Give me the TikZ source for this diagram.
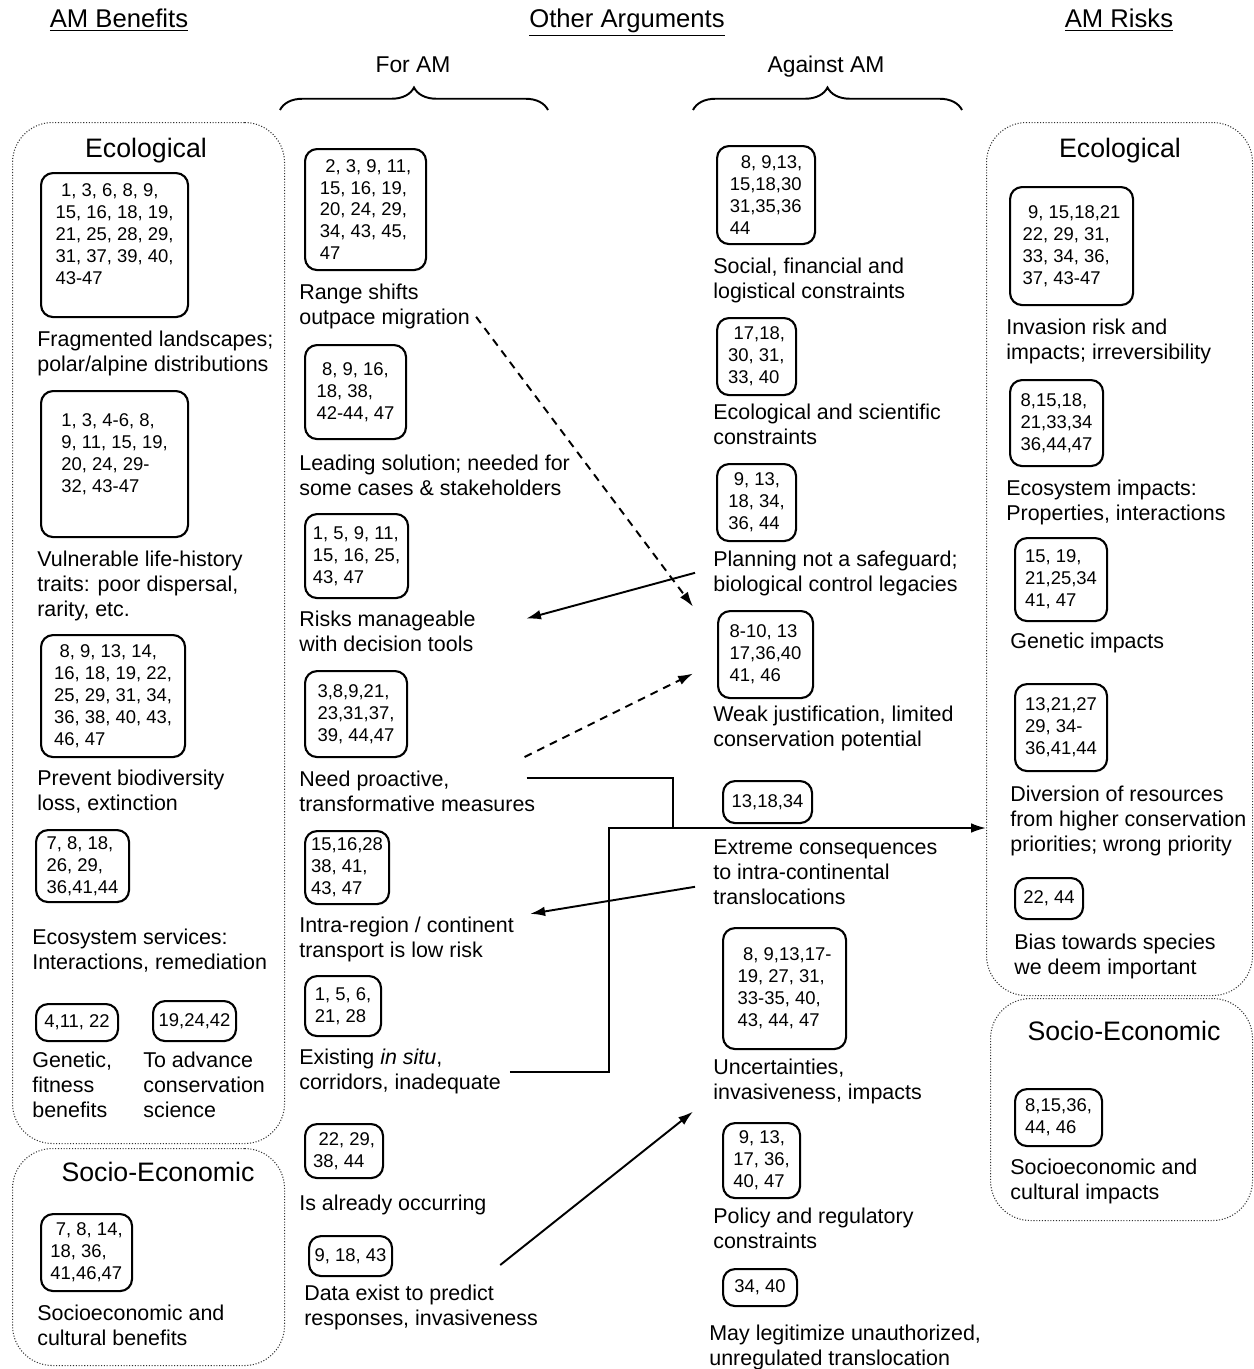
\documentclass[tikz,border=0pt]{standalone}
\usepackage{fontspec}
\setmainfont{Liberation Sans}
\usetikzlibrary{arrows.meta,decorations.pathreplacing}

\newcommand\lblfont{\fontsize{12.2}{14.2}\selectfont}
\newcommand\refsfont{\fontsize{10.5}{12.5}\selectfont}
\newcommand\ind{\hspace{0.3em}}

\begin{document}
\begin{tikzpicture}[
        x=0.02cm, y=-0.02cm,
        >={Latex[length=8.5pt,width=5.5pt]},
        wh/.style 2 args={minimum width=#1*0.02cm, minimum height=#2*0.02cm},
        group/.style={draw=black!80, line width=0.6pt, densely dotted, rounded corners=0.8cm, anchor=north west, inner sep=0pt},
        grouptitle/.style={font=\fontsize{15.2}{18}\selectfont, anchor=base},
        heading/.style={font=\fontsize{14.6}{17}\selectfont, anchor=base},
        side/.style={font=\fontsize{13}{15}\selectfont, anchor=base},
        refs/.style={draw, line width=1.2pt, rounded corners=0.24cm, align=left, font=\refsfont, inner sep=2pt, anchor=north west},
        lbl/.style={align=left, font=\lblfont, inner sep=0pt, anchor=north west},
        link/.style={line width=1.1pt, ->},
        dlink/.style={link, dash pattern=on 4.5pt off 3.5pt},
        brace/.style={decorate, decoration={brace, amplitude=0.45cm}, line width=1.1pt},
    ]
    \useasboundingbox (0,0) rectangle (1254,1369);

    % headings
    \node[heading] (hBen) at (119,28) {\underline{AM Benefits}};
    \node[heading] (hOther) at (627,28) {\underline{Other Arguments}};
    \node[heading] (hRisk) at (1119,28) {\underline{AM Risks}};
    \node[side] (hFor) at (413,72) {For AM};
    \node[side] (hAgainst) at (826,72) {Against AM};
    \draw[brace] (280,110) -- (548,110);
    \draw[brace] (693,110) -- (962,110);

    % groups
    \node[group, wh={272}{1021}] (benEco) at (12,122) {};
    \node[group, wh={272}{217}] (benSoc) at (12,1148) {};
    \node[group, wh={266}{873}] (riskEco) at (986,122) {};
    \node[group, wh={262}{222}] (riskSoc) at (990,998) {};
    \node[grouptitle] (tBenEco) at (146,157) {Ecological};
    \node[grouptitle] (tBenSoc) at (158,1181) {Socio-Economic};
    \node[grouptitle] (tRiskEco) at (1120,157) {Ecological};
    \node[grouptitle] (tRiskSoc) at (1124,1040) {Socio-Economic};

    % AM benefits
    \node[refs, wh={147}{144}] (bFrag) at (40,172) {\ind 1, 3, 6, 8, 9,\\15, 16, 18, 19,\\21, 25, 28, 29,\\31, 37, 39, 40,\\43-47\\ };
    \node[lbl] (lFrag) at (37,331) {Fragmented landscapes;\\polar/alpine distributions};
    \node[refs, wh={147}{146}] (bVuln) at (40,390) {1, 3, 4-6, 8,\\9, 11, 15, 19,\\20, 24, 29-\\32, 43-47\\ };
    \node[lbl] (lVuln) at (37,551) {Vulnerable life-history\\traits: poor dispersal,\\rarity, etc.};
    \node[refs, wh={144}{122}] (bPrev) at (40,634) {\ind 8, 9, 13, 14,\\16, 18, 19, 22,\\25, 29, 31, 34,\\36, 38, 40, 43,\\46, 47};
    \node[lbl] (lPrev) at (37,770) {Prevent biodiversity\\loss, extinction};
    \node[refs, wh={93}{72}] (bEcoSer) at (35,829) {7, 8, 18,\\26, 29,\\36,41,44};
    \node[lbl] (lEcoSer) at (32,929) {Ecosystem services:\\Interactions, remediation};
    \node[refs, wh={82}{37}] (bGenFit) at (35,1003) {4,11, 22};
    \node[refs, wh={83}{40}] (bAdvSci) at (152,1000) {19,24,42};
    \node[lbl] (lGenFit) at (32,1052) {Genetic,\\fitness\\benefits};
    \node[lbl] (lAdvSci) at (143,1052) {To advance\\conservation\\science};
    \node[refs, wh={91}{77}] (bSocBen) at (40,1213) {\ind 7, 8, 14,\\18, 36,\\41,46,47};
    \node[lbl] (lSocBen) at (37,1305) {Socioeconomic and\\cultural benefits};

    % for AM
    \node[refs, wh={121}{121}] (bRange) at (304,148) {\ind 2, 3, 9, 11,\\15, 16, 19,\\20, 24, 29,\\34, 43, 45,\\47};
    \node[lbl] (lRange) at (299,284) {Range shifts\\outpace migration};
    \node[refs, wh={101}{94}] (bLead) at (304,344) {\ind 8, 9, 16,\\18, 38,\\42-44, 47};
    \node[lbl] (lLead) at (299,455) {Leading solution; needed for\\some cases \& stakeholders};
    \node[refs, wh={103}{84}] (bRisk) at (304,513) {1, 5, 9, 11,\\15, 16, 25,\\43, 47};
    \node[lbl] (lRisk) at (299,611) {Risks manageable\\with decision tools};
    \node[refs, wh={102}{86}] (bProact) at (304,670) {3,8,9,21,\\23,31,37,\\39, 44,47};
    \node[lbl] (lProact) at (299,771) {Need proactive,\\transformative measures};
    \node[refs, wh={84}{73}] (bIntra) at (304,830) {15,16,28\\38, 41,\\43, 47};
    \node[lbl] (lIntra) at (299,917) {Intra-region / continent\\transport is low risk};
    \node[refs, wh={76}{60}] (bExist) at (304,975) {1, 5, 6,\\21, 28};
    \node[lbl] (lExist) at (299,1049) {Existing \textit{in situ},\\corridors, inadequate};
    \node[refs, wh={78}{54}] (bAlready) at (304,1123) {\ind 22, 29,\\38, 44};
    \node[lbl] (lAlready) at (299,1195) {Is already occurring};
    \node[refs, wh={83}{40}] (bData) at (308,1235) {9, 18, 43};
    \node[lbl] (lData) at (304,1285) {Data exist to predict\\responses, invasiveness};

    % against AM
    \node[refs, wh={98}{98}] (bSocial) at (716,145) {\ind\ind 8, 9,13,\\15,18,30\\31,35,36\\44};
    \node[lbl] (lSocial) at (713,258) {Social, financial and\\logistical constraints};
    \node[refs, wh={79}{77}] (bEcoSci) at (716,317) {\ind 17,18,\\30, 31,\\33, 40};
    \node[lbl] (lEcoSci) at (713,404) {Ecological and scientific\\constraints};
    \node[refs, wh={79}{77}] (bPlan) at (716,463) {\ind 9, 13,\\18, 34,\\36, 44};
    \node[lbl] (lPlan) at (713,551) {Planning not a safeguard;\\biological control legacies};
    \node[refs, wh={95}{87}] (bWeak) at (717,610) {8-10, 13\\17,36,40\\41, 46};
    \node[lbl] (lWeak) at (713,706) {Weak justification, limited\\conservation potential};
    \node[refs, wh={89}{42}] (bExtreme) at (722,780) {13,18,34};
    \node[lbl] (lExtreme) at (713,839) {Extreme consequences\\to intra-continental\\translocations};
    \node[refs, wh={123}{121}] (bUncert) at (722,927) {\ind 8, 9,13,17-\\19, 27, 31,\\33-35, 40,\\43, 44, 47};
    \node[lbl] (lUncert) at (713,1059) {Uncertainties,\\invasiveness, impacts};
    \node[refs, wh={77}{75}] (bPolicy) at (722,1122) {\ind 9, 13,\\17, 36,\\40, 47};
    \node[lbl] (lPolicy) at (713,1208) {Policy and regulatory\\constraints};
    \node[refs, wh={74}{37}] (bLegit) at (722,1268) {34, 40};
    \node[lbl] (lLegit) at (709,1325) {May legitimize unauthorized,\\unregulated translocation};

    % AM risks
    \node[refs, wh={123}{118}] (bInvasion) at (1009,186) {\ind 9, 15,18,21\\22, 29, 31,\\33, 34, 36,\\37, 43-47};
    \node[lbl] (lInvasion) at (1006,319) {Invasion risk and\\impacts; irreversibility};
    \node[refs, wh={93}{86}] (bEcoImp) at (1009,379) {8,15,18,\\21,33,34\\36,44,47};
    \node[lbl] (lEcoImp) at (1006,480) {Ecosystem impacts:\\Properties, interactions};
    \node[refs, wh={92}{83}] (bGenImp) at (1014,537) {15, 19,\\21,25,34\\41, 47};
    \node[lbl] (lGenImp) at (1010,633) {Genetic impacts};
    \node[refs, wh={92}{87}] (bDivert) at (1014,683) {13,21,27\\29, 34-\\36,41,44};
    \node[lbl] (lDivert) at (1010,786) {Diversion of resources\\from higher conservation\\priorities; wrong priority};
    \node[refs, wh={68}{41}] (bBias) at (1014,877) {22, 44};
    \node[lbl] (lBias) at (1014,934) {Bias towards species\\we deem important};
    \node[refs, wh={87}{57}] (bSocImp) at (1014,1088) {8,15,36,\\44, 46};
    \node[lbl] (lSocImp) at (1010,1159) {Socioeconomic and\\cultural impacts};

    % connectors
    \coordinate (jProact) at (673,828);
    \coordinate (jExist) at (609,828);
    \draw[dlink] ([shift={(6,10)}]lRange.east) -- ([shift={(-20,10)}]lPlan.south west);
    \draw[link] ([shift={(-18,-1)}]lPlan.west) -- ([shift={(50,-13)}]lRisk.east);
    \draw[dlink] ([shift={(-11,-14)}]lProact.north east) -- ([shift={(-24,19)}]bWeak.west);
    \draw[line width=1.1pt] ([shift={(-9,7)}]lProact.north east) -| (jProact);
    \draw[link] ([xshift=5]lExist.east) -| (jExist) -- (jExist -| riskEco.west);
    \draw[link] ([shift={(-18,15)}]lExtreme.west) -- ([shift={(16,-26)}]lIntra.east);
    \draw[link] ([shift={(-38,-20)}]lData.north east) -- ([shift={(-20,7)}]lUncert.south west);

\end{tikzpicture}
\end{document}
